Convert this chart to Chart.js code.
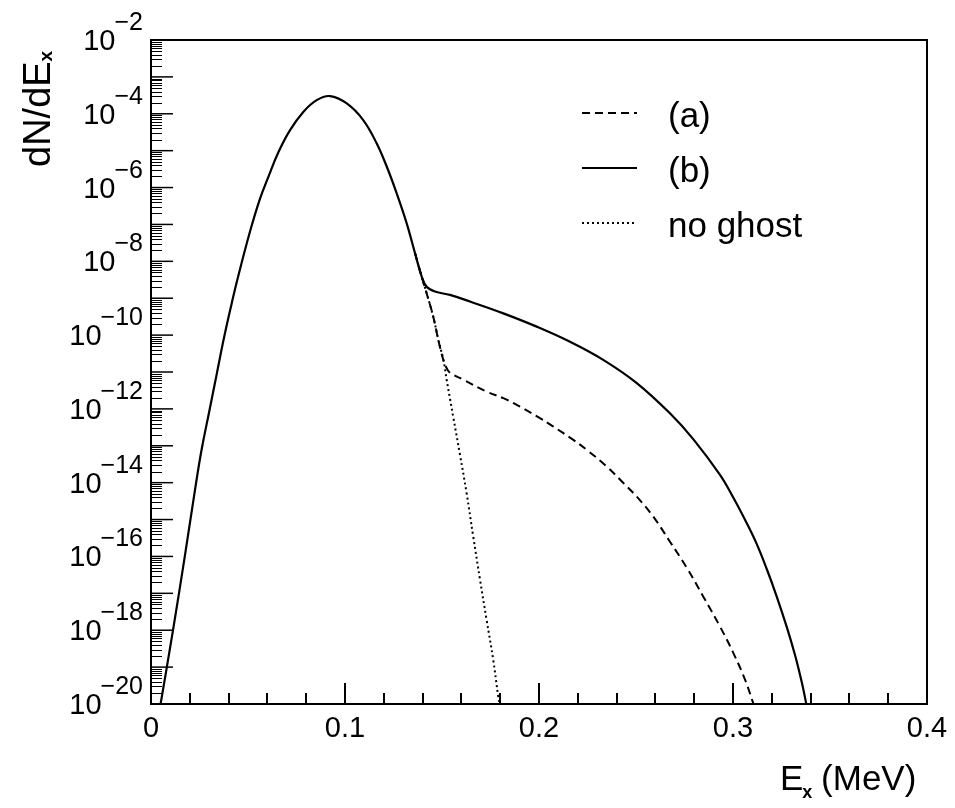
<!DOCTYPE html>
<html>
<head>
<meta charset="utf-8">
<script src="https://cdn.jsdelivr.net/npm/chart.js@4.4.0/dist/chart.umd.min.js"></script>
<style>
  html, body { margin: 0; padding: 0; background: #fff; }
  canvas { display: block; }
</style>
</head>
<body>
<canvas id="grafico" width="955" height="808"></canvas>
<script>
// valores: energia (MeV) e log10(dN/dE)
const energiaB = [0.0043, 0.0115, 0.0175, 0.0232, 0.0261, 0.0301, 0.0339, 0.0376,
    0.0416, 0.0445, 0.0510, 0.0562, 0.0605, 0.0656, 0.0716, 0.0785, 0.0854, 0.0923,
    0.1009, 0.1094, 0.1163, 0.1215, 0.1266, 0.1318, 0.1361, 0.1395, 0.1421, 0.1464,
    0.1541, 0.1644, 0.1816, 0.1988, 0.2160, 0.2331, 0.2504, 0.2675, 0.2795, 0.2933,
    0.3002, 0.3071, 0.3122, 0.3174, 0.3225, 0.3277, 0.3320, 0.3354, 0.3371, 0.3385];
const logB = [-20.2, -17.95, -15.97, -14.02, -13.1, -12.05, -11.05, -10.08,
    -9.14, -8.50, -7.20, -6.30, -5.71, -5.05, -4.45, -3.95, -3.63, -3.52,
    -3.72, -4.17, -4.80, -5.43, -6.15, -6.97, -7.78, -8.41, -8.69, -8.82,
    -8.91, -9.09, -9.41, -9.77, -10.18, -10.67, -11.30, -12.12, -12.82, -13.79,
    -14.41, -15.10, -15.66, -16.34, -17.08, -17.91, -18.68, -19.40, -19.82, -20.2];

const energiaA = [0.1361, 0.1395, 0.1421, 0.1455, 0.1481, 0.1507, 0.1530, 0.1550, 0.1610, 0.1730,
    0.1816, 0.1902, 0.2005, 0.2074, 0.2177, 0.2246, 0.2349, 0.2435, 0.2504, 0.2589,
    0.2675, 0.2761, 0.2847, 0.2933, 0.3002, 0.3062, 0.3101, 0.3110];
const logA = [-7.78, -8.41, -8.87, -9.50, -10.13, -10.67, -10.95, -11.05, -11.21, -11.53,
    -11.71, -11.94, -12.25, -12.48, -12.84, -13.11, -13.56, -14.01, -14.38, -14.92,
    -15.60, -16.30, -17.09, -17.90, -18.62, -19.34, -19.93, -20.1];

const energiaSem = [0.1361, 0.1395, 0.1421, 0.1455, 0.1481, 0.1507, 0.1524, 0.1541, 0.1558, 0.1593,
    0.1627, 0.1661, 0.1696, 0.1730, 0.1764, 0.1790, 0.1800];
const logSem = [-7.78, -8.41, -8.87, -9.50, -10.13, -10.67, -11.21, -11.72, -12.22, -13.25,
    -14.29, -15.46, -16.63, -17.72, -18.80, -19.80, -20.1];

const xTicks = [0, 0.1, 0.2, 0.3, 0.4];
const xTickLabels = ["0", "0.1", "0.2", "0.3", "0.4"];
const yExpoentes = [-20, -18, -16, -14, -12, -10, -8, -6, -4, -2];

const pontos = (es, ls) => es.map((e, i) => ({ x: e, y: Math.pow(10, ls[i]) }));

const FONTE = '"Liberation Sans", Arial, sans-serif';

const eixosPlugin = {
    id: "eixos",
    afterDatasetsDraw(chart) {
        const ctx = chart.ctx;
        const a = chart.chartArea;
        const sx = chart.scales.x;
        const sy = chart.scales.y;
        ctx.save();
        ctx.strokeStyle = "#000";
        ctx.fillStyle = "#000";

        // moldura
        ctx.lineWidth = 2;
        ctx.strokeRect(a.left, a.top, a.right - a.left, a.bottom - a.top);

        // ticks do eixo x
        ctx.lineWidth = 2;
        for (let i = 0; i <= 20; i++) {
            const v = i * 0.02;
            const px = Math.round(sx.getPixelForValue(v));
            const len = (i % 5 === 0) ? 21 : 11;
            ctx.beginPath();
            ctx.moveTo(px, a.bottom);
            ctx.lineTo(px, a.bottom - len);
            ctx.stroke();
        }
        ctx.font = "29px " + FONTE;
        ctx.textAlign = "center";
        ctx.textBaseline = "alphabetic";
        xTicks.forEach((v, i) => {
            ctx.fillText(xTickLabels[i], sx.getPixelForValue(v), 737);
        });

        // ticks do eixo y (log)
        for (let d = -20; d <= -2; d++) {
            const py = sy.getPixelForValue(Math.pow(10, d));
            ctx.lineWidth = 1.5;
            ctx.beginPath();
            ctx.moveTo(a.left, py);
            ctx.lineTo(a.left + 22, py);
            ctx.stroke();
            if (d === -2) continue;
            ctx.lineWidth = 1;
            for (let k = 2; k <= 9; k++) {
                const pm = Math.round(sy.getPixelForValue(k * Math.pow(10, d))) + 0.5;
                ctx.beginPath();
                ctx.moveTo(a.left, pm);
                ctx.lineTo(a.left + 11, pm);
                ctx.stroke();
            }
        }

        // rótulos 10^n
        yExpoentes.forEach(d => {
            const py = sy.getPixelForValue(Math.pow(10, d));
            const exp = "\u2212" + Math.abs(d);
            ctx.textAlign = "right";
            ctx.font = "25px " + FONTE;
            const wExp = ctx.measureText(exp).width;
            ctx.fillText(exp, 143, py - 10);
            ctx.font = "29px " + FONTE;
            ctx.fillText("10", 143 - wExp + 1, py + 10);
        });

        // título do eixo x
        ctx.textAlign = "left";
        ctx.font = "35px " + FONTE;
        ctx.fillText("E", 780, 790);
        let w = ctx.measureText("E").width;
        ctx.font = "bold 18px " + FONTE;
        ctx.fillText("x", 780 + w - 1, 798);
        const w2 = ctx.measureText("x").width;
        ctx.font = "35px " + FONTE;
        ctx.fillText(" (MeV)", 780 + w + w2 - 2, 790);

        // título do eixo y
        ctx.save();
        ctx.translate(50, 167);
        ctx.rotate(-Math.PI / 2);
        ctx.textAlign = "left";
        ctx.font = "38px " + FONTE;
        ctx.fillText("dN/dE", 0, 0);
        w = ctx.measureText("dN/dE").width;
        ctx.font = "bold 19px " + FONTE;
        ctx.fillText("x", w, 2);
        ctx.restore();

        // legenda
        const linhasLeg = [127, 182, 237];
        chart.data.datasets.forEach((ds, i) => {
            const by = linhasLeg[i];
            ctx.save();
            ctx.lineWidth = ds.borderWidth;
            ctx.setLineDash(ds.borderDash || []);
            ctx.beginPath();
            ctx.moveTo(582, by - 14);
            ctx.lineTo(637, by - 14);
            ctx.stroke();
            ctx.restore();
            ctx.textAlign = "left";
            ctx.font = "35px " + FONTE;
            ctx.fillText(ds.label, 668, by);
        });

        ctx.restore();
    }
};

new Chart(document.getElementById("grafico"), {
    type: "line",
    data: {
        datasets: [{
            label: "(a)",
            data: pontos(energiaA, logA),
            borderColor: "#000",
            borderWidth: 2,
            borderDash: [8, 5]
        }, {
            label: "(b)",
            data: pontos(energiaB, logB),
            borderColor: "#000",
            borderWidth: 2.2,
            borderDash: []
        }, {
            label: "no ghost",
            data: pontos(energiaSem, logSem),
            borderColor: "#000",
            borderWidth: 2,
            borderDash: [2, 3]
        }]
    },
    options: {
        responsive: false,
        animation: false,
        devicePixelRatio: 1,
        layout: { padding: { left: 151, top: 40, right: 28, bottom: 104 } },
        elements: {
            point: { radius: 0 },
            line: { tension: 0.4, fill: false }
        },
        plugins: {
            legend: { display: false },
            tooltip: { enabled: false }
        },
        scales: {
            x: { type: "linear", min: 0, max: 0.4, display: false },
            y: { type: "logarithmic", min: 1e-20, max: 1e-2, display: false }
        }
    },
    plugins: [eixosPlugin]
});
</script>
</body>
</html>
